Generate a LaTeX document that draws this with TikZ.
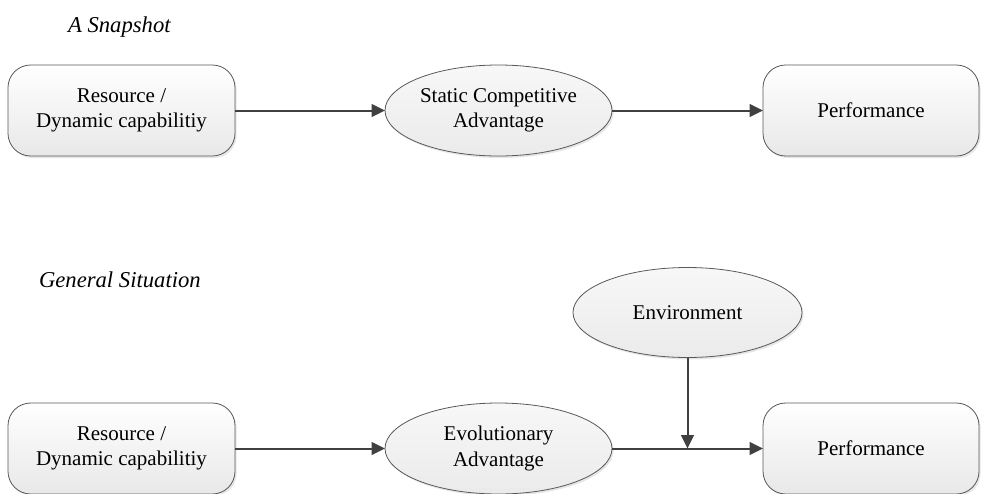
\documentclass[tikz,border=0pt]{standalone}
\usepackage{fontspec}
\setmainfont{Liberation Serif}
\usetikzlibrary{shapes.geometric, arrows.meta, positioning, calc, shadows}
\tikzstyle{arrow} = [line width=1.5pt, draw=black!75, -{Triangle[length=10pt, width=9.5pt]}]
\tikzstyle{line} = [line width=1.5pt, draw=black!75, -]

\begin{document}
\begin{tikzpicture}[
    x=0.75pt, y=-0.75pt,
    every node/.style={font=\fontsize{15.75}{19}\selectfont, align=center, outer sep=0pt},
    block/.style={rectangle, rounded corners=17pt, draw=black!65, line width=0.6pt,
        minimum width=170.25pt, minimum height=68.25pt, top color=white, bottom color=black!9,
        drop shadow={shadow xshift=1.2pt, shadow yshift=-1.5pt, opacity=0.2}},
    oval/.style={ellipse, draw=black!65, line width=0.6pt, inner sep=0pt,
        minimum width=170.25pt, minimum height=68.25pt, top color=black!3, bottom color=black!8,
        drop shadow={shadow xshift=1.2pt, shadow yshift=-1.5pt, opacity=0.2}},
    title/.style={font=\fontsize{17}{20}\selectfont\itshape, anchor=base west, inner sep=0pt}
]
    \useasboundingbox (0,0) rectangle (981,493);

    % A snapshot
    \node[title] (snaptitle) at (68,32) {A Snapshot};
    \node[block] (res1) at (121.5,110.5) {Resource /\\ Dynamic capabilitiy};
    \node[oval, right=112.5pt of res1] (static) {Static Competitive\\ Advantage};
    \node[block, minimum width=162pt, right=113.25pt of static] (perf1) {Performance};

    % General situation
    \node[title] (gentitle) at (39,287) {General Situation};
    \node[block, below=185.25pt of res1] (res2) {Resource /\\ Dynamic capabilitiy};
    \node[oval, right=112.5pt of res2] (evo) {Evolutionary\\ Advantage};
    \node[block, minimum width=162pt, right=113.25pt of evo] (perf2) {Performance};
    \coordinate (mid) at ($(evo.east)!0.5!(perf2.west)$);
    \node[oval, minimum width=171.75pt, minimum height=67.5pt, above=68.25pt of mid] (env) {Environment};

    % Connections
    \path[arrow] (res1) -- (static);
    \path[arrow] (static) -- (perf1);
    \path[arrow] (res2) -- (evo);
    \path[arrow] (evo) -- (perf2);
    \path[arrow] (env) -- (mid);
\end{tikzpicture}
\end{document}
